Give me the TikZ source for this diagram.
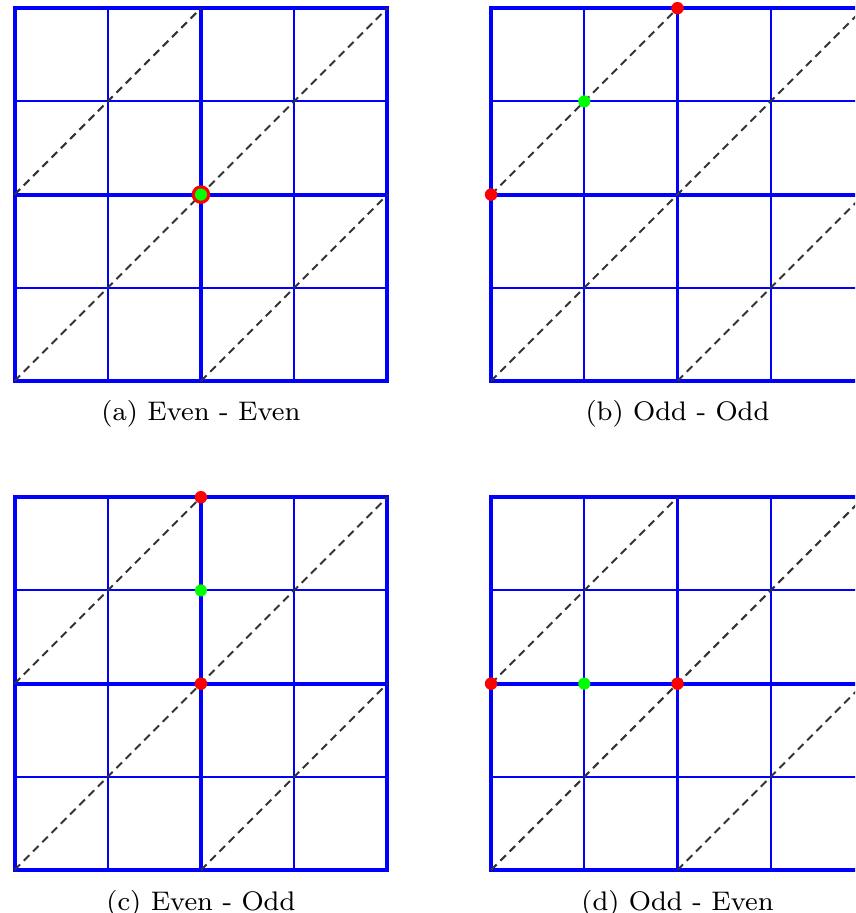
\documentclass[tikz,border=0pt]{standalone}
\usepackage{amsmath}
\usepackage{tikz}

\begin{document}
\begin{tikzpicture}[
	thinline/.style={blue, line width=0.6pt},
	thickline/.style={blue, line width=1.2pt},
	diagline/.style={black!80, line width=0.6pt, dash pattern=on 2.4pt off 1.6pt},
	reddot/.style={circle, fill=red, inner sep=0pt, minimum size=0.134cm},
	bigred/.style={circle, fill=red, inner sep=0pt, minimum size=0.2cm},
	greendot/.style={circle, fill=green, inner sep=0pt, minimum size=0.13cm},
	caption/.style={font=\fontsize{8.2}{10}\selectfont, anchor=base}
]
				\useasboundingbox (-0.156,-5.708) rectangle (9.018,4.088);
				\clip (-0.156,-5.708) rectangle (9.018,4.088);
				\foreach \px/\py in {0/0, 5.113/0, 0/-5.247, 5.113/-5.247} {
					\begin{scope}[shift={(\px,\py)}]
						\foreach \k in {1,3} {
							\draw[thinline] (\k,0) -- (\k,4);
							\draw[thinline] (0,\k) -- (4,\k);
						}
						\draw[thickline] (2,0) -- (2,4);
						\draw[thickline] (0,2) -- (4,2);
						\draw[thickline] (0,0) rectangle (4,4);
						\draw[diagline] (0,2) -- (2,4);
						\draw[diagline] (0,0) -- (4,4);
						\draw[diagline] (2,0) -- (4,2);
					\end{scope}
				}
				\begin{scope}
					\node[bigred] (eeR) at (2,2) {};
					\node[greendot] (eeG) at (2,2) {};
					\node[caption] (capA) at (2,-0.429) {(a) Even - Even};
				\end{scope}
				\begin{scope}[shift={(5.113,0)}]
					\node[reddot] (ooL) at (0,2) {};
					\node[reddot] (ooT) at (2,4) {};
					\node[greendot] (ooG) at (1,3) {};
					\node[caption] (capB) at (2,-0.429) {(b) Odd - Odd};
				\end{scope}
				\begin{scope}[shift={(0,-5.247)}]
					\node[reddot] (eoT) at (2,4) {};
					\node[greendot] (eoG) at (2,3) {};
					\node[reddot] (eoC) at (2,2) {};
					\node[caption] (capC) at (2,-0.429) {(c) Even - Odd};
				\end{scope}
				\begin{scope}[shift={(5.113,-5.247)}]
					\node[reddot] (oeL) at (0,2) {};
					\node[greendot] (oeG) at (1,2) {};
					\node[reddot] (oeC) at (2,2) {};
					\node[caption] (capD) at (2,-0.429) {(d) Odd - Even};
				\end{scope}
			\end{tikzpicture}
\end{document}
